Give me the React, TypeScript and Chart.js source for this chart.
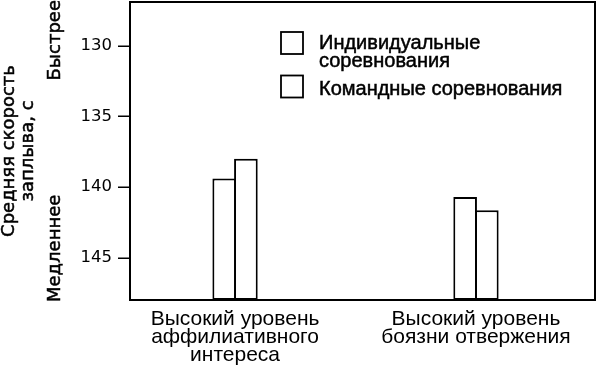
import React, { useEffect, useRef } from "react";
import { Chart, registerables } from "chart.js";

Chart.register(...registerables);

// ---- data ----
const categories: string[][] = [
  ["Высокий уровень", "аффилиативного", "интереса"],
  ["Высокий уровень", "боязни отвержения"],
];
const categoryPositions = [1, 2];
const seriesNames: string[][] = [["Индивидуальные", "соревнования"], ["Командные соревнования"]];
const individualValues = [139.4, 140.7];
const teamValues = [138.0, 141.65];
const yTicks = [130, 135, 140, 145];
const yMin = 126.9;
const yMax = 148;
const yTitle = ["Средняя скорость", "заплыва, с"];
const fasterLabel = "Быстрее";
const slowerLabel = "Медленнее";

const FONT = '"DejaVu Sans", Verdana, sans-serif';
const FONT2 = '"Liberation Sans", Arial, Helvetica, sans-serif';
const STROKE = 0.5;

function heavyText(ctx: CanvasRenderingContext2D, t: string, x: number, y: number) {
  ctx.save();
  ctx.lineWidth = STROKE;
  ctx.strokeStyle = "#000";
  ctx.strokeText(t, x, y);
  ctx.fillText(t, x, y);
  ctx.restore();
}

const annotatePlugin = {
  id: "annotate",
  afterDraw(chart: any) {
    const { ctx, chartArea: a } = chart;
    ctx.save();
    ctx.setLineDash([]);
    ctx.globalAlpha = 1;

    ctx.fillStyle = "#000";
    ctx.font = `18px ${FONT}`;
    const cy = (a.top + a.bottom) / 2;
    // axis title (two lines, rotated)
    yTitle.forEach((line, i) => {
      ctx.save();
      ctx.translate(14 + i * 18.5, cy);
      ctx.rotate(-Math.PI / 2);
      ctx.textAlign = "center";
      ctx.textBaseline = "alphabetic";
      heavyText(ctx, line, 0, 0);
      ctx.restore();
    });
    // faster / slower
    ctx.save();
    ctx.translate(55, a.top - 2);
    ctx.rotate(-Math.PI / 2);
    ctx.textAlign = "right";
    ctx.textBaseline = "middle";
    heavyText(ctx, fasterLabel, 0, 0);
    ctx.restore();
    ctx.save();
    ctx.translate(55, a.bottom + 2);
    ctx.rotate(-Math.PI / 2);
    ctx.textAlign = "left";
    ctx.textBaseline = "middle";
    heavyText(ctx, slowerLabel, 0, 0);
    ctx.restore();

    // legend
    const bx = a.left + 151;
    const boxTops = [a.top + 30, a.top + 73.5];
    ctx.font = `20px ${FONT2}`;
    ctx.textAlign = "left";
    ctx.textBaseline = "alphabetic";
    seriesNames.forEach((lines, i) => {
      ctx.fillStyle = "#fff";
      ctx.fillRect(bx, boxTops[i], 22, 22);
      ctx.strokeStyle = "#000";
      ctx.lineWidth = 1.8;
      ctx.strokeRect(bx, boxTops[i], 22, 22);
      ctx.fillStyle = "#000";
      const base = boxTops[i] + (lines.length === 1 ? 19 : 16.5);
      lines.forEach((t, j) => {
        heavyText(ctx, t, bx + 38, base + j * 18.4);
      });
    });

    // frame of the plot area
    ctx.strokeStyle = "#000";
    ctx.lineWidth = 2;
    ctx.strokeRect(a.left, a.top, a.right - a.left, a.bottom - a.top);
    // tick marks on the value axis
    const ys = chart.scales.y;
    ctx.lineWidth = 1.5;
    ctx.beginPath();
    yTicks.forEach((v) => {
      const py = Math.round(ys.getPixelForValue(v)) + 0.25;
      ctx.moveTo(a.left - 12, py);
      ctx.lineTo(a.left, py);
    });
    ctx.stroke();
    ctx.restore();
  },
};

export default function App() {
  const ref = useRef<HTMLCanvasElement | null>(null);
  useEffect(() => {
    if (!ref.current) return;
    const chart = new Chart(ref.current, {
      type: "bar",
      data: {
        datasets: [
          {
            label: seriesNames[0].join(" "),
            data: categoryPositions.map((x, i) => ({ x, y: [yMax, individualValues[i]] })) as any,
            backgroundColor: "#fff",
            borderColor: "#000",
            borderWidth: 2,
            borderSkipped: false,
          },
          {
            label: seriesNames[1].join(" "),
            data: categoryPositions.map((x, i) => ({ x, y: [yMax, teamValues[i]] })) as any,
            backgroundColor: "#fff",
            borderColor: "#000",
            borderWidth: 2,
            borderSkipped: false,
          },
        ],
      },
      options: {
        animation: false,
        responsive: false,
        maintainAspectRatio: false,
        layout: { padding: { top: 2, right: 5, left: 0, bottom: 0 } },
        plugins: { legend: { display: false }, tooltip: { enabled: false } },
        datasets: { bar: { categoryPercentage: 0.18, barPercentage: 1.09 } } as any,
        scales: {
          x: {
            type: "linear",
            offset: false,
            min: 0.564,
            max: 2.494,
            grid: { display: false, offset: false, drawTicks: false },
            border: { display: false },
            afterBuildTicks: (s: any) => {
              s.ticks = categoryPositions.map((v) => ({ value: v }));
            },
            afterFit: (s: any) => {
              s.height = 68;
              s.paddingLeft = 0;
              s.paddingRight = 0;
            },
            ticks: {
              autoSkip: false,
              maxRotation: 0,
              padding: 10,
              color: "#000",
              font: { family: FONT2, size: 21, lineHeight: 18 / 21 },
              callback: (v: any) => {
                const i = categoryPositions.indexOf(Number(v));
                return i >= 0 ? categories[i] : "";
              },
            },
          },
          y: {
            type: "linear",
            reverse: true,
            min: yMin,
            max: yMax,
            afterBuildTicks: (s: any) => {
              s.ticks = yTicks.map((v) => ({ value: v }));
            },
            afterFit: (s: any) => {
              s.width = 130;
              s.paddingTop = 0;
              s.paddingBottom = 0;
            },
            grid: {
              display: false,
              drawOnChartArea: false,
              drawTicks: true,
              tickLength: 12,
            },
            border: { display: false },
            ticks: {
              padding: 6,
              color: "#000",
              font: { family: FONT, size: 16.5 },
            },
          },
        },
      },
      plugins: [annotatePlugin],
    });
    return () => chart.destroy();
  }, []);
  return (
    <div style={{ position: "fixed", left: 0, top: 0, width: 600, height: 368, background: "#fff" }}>
      <canvas ref={ref} width={600} height={368} style={{ width: 600, height: 368, display: "block" }} />
    </div>
  );
}
